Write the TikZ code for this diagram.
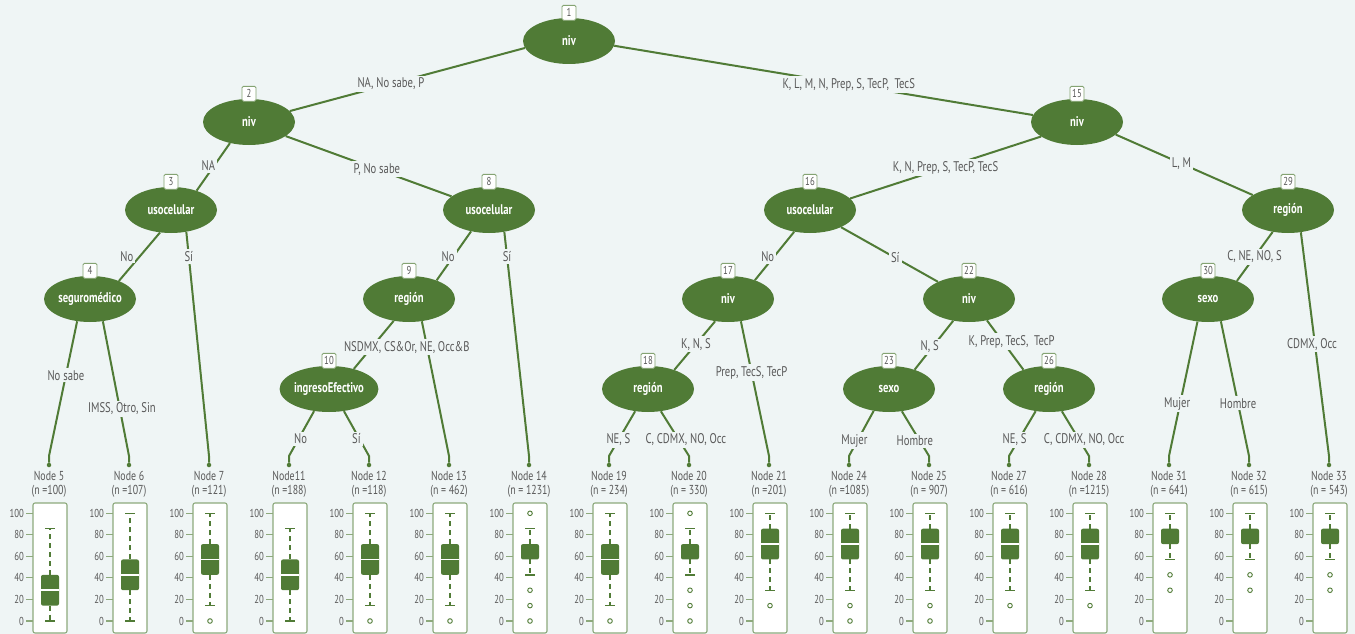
\documentclass[tikz,border=0pt]{standalone}
\usepackage{fontspec}
\setmainfont[FakeStretch=0.76]{PT Sans}
\usepackage{tikz}
\usetikzlibrary{positioning,shapes.geometric}
\definecolor{bgx}{HTML}{EFF5F5}
\definecolor{grn}{HTML}{507B36}
\definecolor{txt}{HTML}{595959}
\tikzset{
  spl/.style={ellipse,fill=grn,text=white,minimum width=92pt,minimum height=46pt,inner sep=0pt,font=\fontsize{14}{16}\selectfont\bfseries},
  idb/.style={draw=grn!70,fill=white,rounded corners=1.5pt,line width=0.9pt,minimum width=14pt,minimum height=15pt,inner sep=1.5pt,text=txt,font=\fontsize{11.5}{12}\selectfont},
  br/.style={grn,line width=2pt},
  elab/.style={fill=bgx,text=txt,inner sep=2pt,font=\fontsize{14}{15}\selectfont},
  tdot/.style={circle,fill=grn,inner sep=0pt,minimum size=4.5pt},
  tlab/.style={anchor=north,align=center,text=txt,inner sep=0pt,font=\fontsize{13}{14.5}\selectfont},
  panel/.style={draw=grn!65,fill=white,line width=1.1pt,rounded corners=2pt},
  tk/.style={grn!65,line width=1.1pt},
  tkl/.style={anchor=east,text=txt,inner sep=0pt,font=\fontsize{11.5}{12}\selectfont},
  bx/.style={fill=grn,rounded corners=2pt},
  wh/.style={grn,line width=1.3pt,dash pattern=on 5pt off 4pt},
  capl/.style={grn,line width=1.3pt},
  med/.style={white,line width=1.6pt},
  outl/.style={grn,line width=0.9pt,fill=white}
}

\begin{document}
\begin{tikzpicture}[x=1pt,y=-1pt]
\fill[bgx] (0,0) rectangle (1355,634);
\useasboundingbox (0,0) rectangle (1355,634);

% inner splits
\node[spl] (n1) at (569,41) {niv};
\node[spl] (n2) at (249,122) {niv};
\node[spl] (n15) at (1077,122) {niv};
\node[spl] (n3) at (171,210) {usocelular};
\node[spl] (n8) at (489,210) {usocelular};
\node[spl] (n16) at (810,210) {usocelular};
\node[spl] (n29) at (1288,210) {región};
\node[spl] (n4) at (90,299) {seguromédico};
\node[spl] (n9) at (409,299) {región};
\node[spl] (n17) at (728,299) {niv};
\node[spl] (n22) at (969,299) {niv};
\node[spl] (n30) at (1208,299) {sexo};
\node[spl] (n10) at (329,389) {ingresoEfectivo};
\node[spl] (n18) at (648,389) {región};
\node[spl] (n23) at (889,389) {sexo};
\node[spl] (n26) at (1049,389) {región};

\foreach \id in {1,2,3,4,8,9,10,15,16,17,18,22,23,26,29,30}
  \node[idb,above=-3pt of n\id] (i\id) {\id};

% terminal nodes
\foreach \id/\x/\txt in {5/49/{Node 5\\(n =100)},6/129/{Node 6\\(n =107)},7/209/{Node 7\\(n =121)},
    11/289/{Node11\\(n =188)},12/369/{Node 12\\(n =118)},13/449/{Node 13\\(n = 462)},
    14/529/{Node 14\\(n = 1231)},19/609/{Node 19\\(n = 234)},20/689/{Node 20\\(n = 330)},
    21/769/{Node 21\\(n =201)},24/849/{Node 24\\(n =1085)},25/929/{Node 25\\(n = 907)},
    27/1009/{Node 27\\(n = 616)},28/1089/{Node 28\\(n =1215)},31/1169/{Node 31\\(n = 641)},
    32/1249/{Node 32\\(n = 615)},33/1329/{Node 33\\(n = 543)}}{
  \coordinate (c\id) at (\x,456);
  \node[tdot] (t\id) at (\x,465) {};
  \node[tlab] (l\id) at (\x,471) {\txt};
}

% branches
\draw[br] (n1.-171) -- node[elab,pos=.57] (e2) {NA, No sabe, P} (n2.15);
\draw[br] (n1.-6) -- node[elab,pos=.56] (e15) {K, L, M, N, Prep, S, TecP,~ TecS} (n15.171);
\draw[br] (n2.-132) -- node[elab,pos=.47,xshift=-6pt] (e3) {NA} (n3.37);
\draw[br] (n2.-21) -- node[elab,pos=.55] (e8) {P, No sabe} (n8.160);
\draw[br] (n15.-158) -- node[elab,pos=.5] (e16) {K, N, Prep, S, TecP, TecS} (n16.16);
\draw[br] (n15.-18) -- node[elab,pos=.48] (e29) {L, M} (n29.157);
\draw[br] (n3.-116) -- node[elab,pos=.49,xshift=-13pt] (e4) {No} (n4.32);
\draw[br] (n3.-55) -- node[elab,pos=.11] (e7) {Sí} (c7) -- (t7);
\draw[br] (n8.-130) -- node[elab,pos=.52,xshift=-5pt] (e9) {No} (n9.34);
\draw[br] (n8.-55) -- node[elab,pos=.11] (e14) {Sí} (c14) -- (t14);
\draw[br] (n16.-126) -- node[elab,pos=.52,xshift=-6pt] (e17) {No} (n17.35);
\draw[br] (n16.-29) -- node[elab,pos=.56] (e22) {Sí} (n22.151);
\draw[br] (n29.-125) -- node[elab,pos=.51] (e30) {C, NE, NO, S} (n30.32);
\draw[br] (n29.-60) -- node[elab,pos=.5,xshift=-3pt] (e33) {CDMX, Occ} (c33) -- (t33);
\draw[br] (n4.-120) -- node[elab,pos=.4] (e5) {No sabe} (c5) -- (t5);
\draw[br] (n4.-60) -- node[elab,pos=.65,xshift=2pt] (e6) {IMSS, Otro, Sin} (c6) -- (t6);
\draw[br] (n9.-60) -- (c13) -- (t13);
\draw[br] (n9.-125) -- node[elab,pos=.55,xshift=35pt] (e10) {NSDMX, CS\&Or, NE, Occ\&B} (n10.39);
\draw[br] (n10.-124) -- node[elab,pos=.62,xshift=2pt] (e11) {No} (c11) -- (t11);
\draw[br] (n10.-56) -- node[elab,pos=.62,xshift=-3pt] (e12) {Sí} (c12) -- (t12);
\draw[br] (n17.-120) -- node[elab,pos=.47] (e18) {K, N, S} (n18.36);
\draw[br] (n17.-60) -- node[elab,pos=.38] (e21) {Prep, TecS, TecP} (c21) -- (t21);
\draw[br] (n18.-120) -- node[elab,pos=.64] (e19) {NE, S} (c19) -- (t19);
\draw[br] (n18.-60) -- node[elab,pos=.64,xshift=7pt] (e20) {C, CDMX, NO, Occ} (c20) -- (t20);
\draw[br] (n22.-126) -- node[elab,pos=.53,xshift=-3pt] (e23) {N, S} (n23.37);
\draw[br] (n22.-50) -- node[elab,pos=.43,xshift=9pt] (e26) {K, Prep, TecS,~ TecP} (n26.143);
\draw[br] (n23.-125) -- node[elab,pos=.66,xshift=-3pt] (e24) {Mujer} (c24) -- (t24);
\draw[br] (n23.-60) -- node[elab,pos=.66,xshift=-5pt] (e25) {Hombre} (c25) -- (t25);
\draw[br] (n26.-121) -- node[elab,pos=.64,xshift=-4pt] (e27) {NE, S} (c27) -- (t27);
\draw[br] (n26.-60) -- node[elab,pos=.64,xshift=5pt] (e28) {C, CDMX, NO, Occ} (c28) -- (t28);
\draw[br] (n30.-115) -- node[elab,pos=.61,xshift=-3pt] (e31) {Mujer} (c31) -- (t31);
\draw[br] (n30.-60) -- node[elab,pos=.61] (e32) {Hombre} (c32) -- (t32);

% boxplots, values in sevenths of 100
\foreach \x/\lo/\qa/\md/\qb/\hi/\outs in {49/0/1/2/3/6/{-1},129/0/2/3/4/7/{-1},209/1/3/4/5/7/{0},
    289/0/2/3/4/6/{-1},369/1/3/4/5/7/{0},449/1/3/4/5/7/{0},529/3/4/-1/5/6/{7,2,1,0},
    609/1/3/4/5/7/{0},689/3/4/-1/5/6/{7,2,1,0},769/2/4/5/6/7/{1},849/2/4/5/6/7/{1,0},
    929/2/4/5/6/7/{1,0},1009/2/4/5/6/7/{1},1089/2/4/5/6/7/{1},1169/4/5/-1/6/7/{3,2},
    1249/4/5/-1/6/7/{3,2},1329/4/5/-1/6/7/{3,2}}{
  \draw[panel] ({\x-16},503) rectangle ({\x+18},633);
  \foreach \t in {0,20,...,100}{
    \draw[tk] ({\x-23},{621-1.077*\t}) -- ({\x-16},{621-1.077*\t});
    \node[tkl] (v\x-\t) at ({\x-25},{621-1.077*\t}) {\t};
  }
  \draw[wh] ({\x+1},{621-15.385*\qb}) -- ({\x+1},{621-15.385*\hi});
  \draw[wh] ({\x+1},{621-15.385*\qa}) -- ({\x+1},{621-15.385*\lo});
  \draw[capl] ({\x-4},{621-15.385*\hi}) -- ({\x+6},{621-15.385*\hi});
  \draw[capl] ({\x-4},{621-15.385*\lo}) -- ({\x+6},{621-15.385*\lo});
  \fill[bx] ({\x-8},{621-15.385*\qb}) rectangle ({\x+10},{621-15.385*\qa});
  \ifnum\md>-1 \draw[med] ({\x-8},{621-15.385*\md}) -- ({\x+10},{621-15.385*\md}); \fi
  \foreach \o in \outs {\ifnum\o>-1 \draw[outl] ({\x+1},{621-15.385*\o}) circle (2.3); \fi}
}
\end{tikzpicture}
\end{document}
